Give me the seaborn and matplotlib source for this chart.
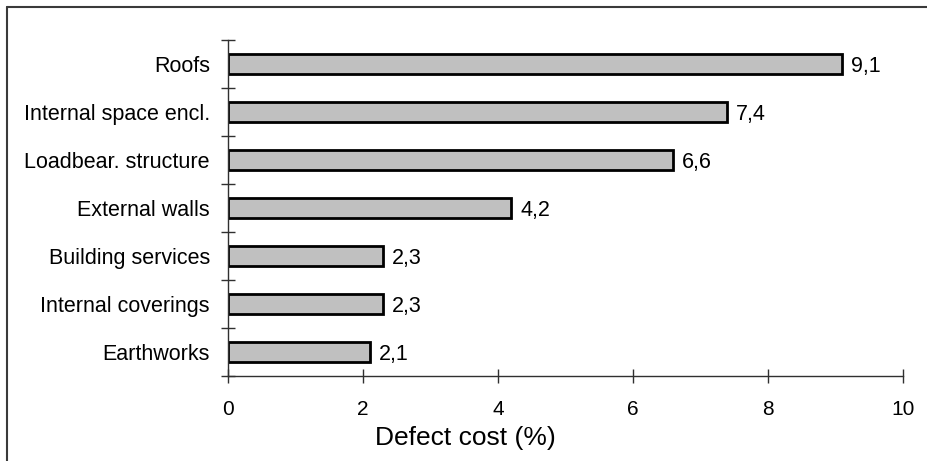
import matplotlib
matplotlib.use("Agg")
import matplotlib.pyplot as plt
from matplotlib.lines import Line2D
from matplotlib.ticker import FixedLocator
import seaborn as sns
import pandas as pd

# Defect cost by building element (%)
categories = [
    "Roofs",
    "Internal space encl.",
    "Loadbear. structure",
    "External walls",
    "Building services",
    "Internal coverings",
    "Earthworks",
]
defect_cost = [9.1, 7.4, 6.6, 4.2, 2.3, 2.3, 2.1]
x_ticks = [0, 2, 4, 6, 8, 10]

df = pd.DataFrame({"element": categories, "cost": defect_cost})

sns.set_theme(style="white")
plt.rcParams["font.family"] = ["Liberation Sans", "DejaVu Sans"]

fig = plt.figure(figsize=(9.28, 4.61), dpi=100)
ax = fig.add_axes([228 / 928, 1 - 376 / 461, 675 / 928, 336 / 461])

sns.barplot(data=df, x="cost", y="element", order=categories, orient="h",
            color="#c0c0c0", edgecolor="black", linewidth=2.0, width=0.42,
            saturation=1, ax=ax)

ax.set_xlim(0, 10)
ax.set_ylim(len(categories) - 0.5, -0.5)

# value labels with decimal comma
for i, v in enumerate(defect_cost):
    ax.text(v + 0.13, i, f"{v:.1f}".replace(".", ","), va="center_baseline",
            ha="left", fontsize=15.5, color="black")

# axes styling
for side in ("top", "right"):
    ax.spines[side].set_visible(False)
for side in ("left", "bottom"):
    ax.spines[side].set_color("#303030")
    ax.spines[side].set_linewidth(1.0)

ax.xaxis.set_major_locator(FixedLocator(x_ticks))
ax.set_xticklabels([str(t) for t in x_ticks], fontsize=15)
ax.tick_params(axis="x", direction="inout", length=10, width=1.0,
               color="#303030", pad=12, bottom=True)

ax.yaxis.set_minor_locator(FixedLocator([i - 0.5 for i in range(len(categories) + 1)]))
ax.tick_params(axis="y", which="major", length=0, pad=13, labelsize=15.5)
ax.tick_params(axis="y", which="minor", direction="inout", length=10, width=1.0,
               color="#303030", left=True)
for lab in ax.get_yticklabels():
    lab.set_color("black")
for lab in ax.get_xticklabels():
    lab.set_color("black")

ax.set_xlabel("Defect cost (%)", fontsize=19, color="black")
ax.xaxis.set_label_coords((465 - 228) / 675, -0.148)
ax.xaxis.label.set_va("top")
ax.set_ylabel("")

# outer frame (top and left edge)
fig.add_artist(Line2D([7 / 928, 7 / 928], [0, 1 - 7 / 461], transform=fig.transFigure,
                      color="#3a3a3a", linewidth=1.5))
fig.add_artist(Line2D([7 / 928, 1], [1 - 7 / 461, 1 - 7 / 461], transform=fig.transFigure,
                      color="#3a3a3a", linewidth=1.5))

fig.savefig("out.png", dpi=100, facecolor="white")
